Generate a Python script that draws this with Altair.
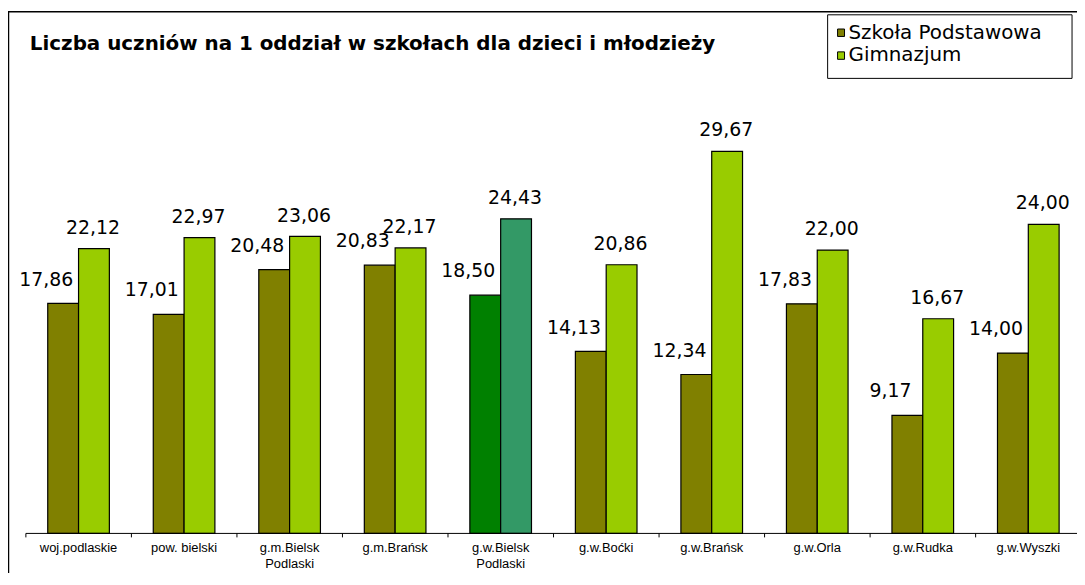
import altair as alt
import pandas as pd

# ---- data ----
categories = [
    "woj.podlaskie", "pow. bielski", "g.m.Bielsk\nPodlaski", "g.m.Brańsk",
    "g.w.Bielsk\nPodlaski", "g.w.Boćki", "g.w.Brańsk", "g.w.Orla",
    "g.w.Rudka", "g.w.Wyszki",
]
series_names = ["Szkoła Podstawowa", "Gimnazjum"]
sp_values = [17.86, 17.01, 20.48, 20.83, 18.50, 14.13, 12.34, 17.83, 9.17, 14.00]
gim_values = [22.12, 22.97, 23.06, 22.17, 24.43, 20.86, 29.67, 22.00, 16.67, 24.00]
highlight_category = "g.w.Bielsk\nPodlaski"
series_colors = ["#808000", "#99CC00"]
highlight_colors = ["#008000", "#339966"]
title_text = "Liczba uczniów na 1 oddział w szkołach dla dzieci i młodzieży"

# ---- table ----
rows = []
for cat, sp, gim in zip(categories, sp_values, gim_values):
    for s, v in zip(series_names, (sp, gim)):
        key = s + " *" if cat == highlight_category else s
        rows.append({"cat": cat, "series": s, "value": v, "key": key})
df = pd.DataFrame(rows)
color_domain = series_names + [s + " *" for s in series_names]
color_range = series_colors + highlight_colors

W, H = 1018, 455
FONT = "DejaVu Sans"

x_enc = alt.X(
    "cat:N", sort=categories,
    scale=alt.Scale(domain=categories, paddingInner=0.416, paddingOuter=0),
    axis=alt.Axis(
        title=None, domain=False, ticks=False, labelAngle=0,
        labelExpr="split(datum.label, '\\n')",
        labelFont="Liberation Sans", labelFontSize=13, labelColor="black",
        labelPadding=8, labelLineHeight=16, labelLimit=300,
    ),
)
xo_enc = alt.XOffset(
    "series:N", sort=series_names,
    scale=alt.Scale(domain=series_names, paddingInner=0, paddingOuter=0),
)
y_enc = alt.Y("value:Q", axis=None, scale=alt.Scale(domain=[0, 35.1], nice=False))

base = alt.Chart(df).transform_calculate(
    label="replace(format(datum.value, '.2f'), '.', ',')"
)

bars = base.mark_bar(stroke="black", strokeWidth=1.2).encode(
    x=x_enc, xOffset=xo_enc, y=y_enc,
    fill=alt.Fill("key:N", scale=alt.Scale(domain=color_domain, range=color_range), legend=None),
)

lab_sp = base.transform_filter(alt.datum.series == series_names[0]).mark_text(
    dx=-17, dy=-18, baseline="alphabetic", font=FONT, fontSize=19, color="black"
).encode(x=x_enc, xOffset=xo_enc, y=y_enc, text="label:N")

lab_gim = base.transform_filter(alt.datum.series == series_names[1]).mark_text(
    dx=-1, dy=-15, baseline="alphabetic", font=FONT, fontSize=19, color="black"
).encode(x=x_enc, xOffset=xo_enc, y=y_enc, text="label:N")

cat_df = pd.DataFrame({"cat": categories})
ticks = alt.Chart(cat_df).mark_rule(color="black", strokeWidth=1, xOffset=-22).encode(
    x=alt.X("cat:N", sort=categories, bandPosition=0),
    y=alt.value(H), y2=alt.value(H + 4),
)

one = pd.DataFrame({"k": [0]})
axis_line = alt.Chart(one).mark_rule(color="black", strokeWidth=1).encode(
    x=alt.value(-22), x2=alt.value(W + 30), y=alt.value(H)
)
frame_left = alt.Chart(one).mark_rule(color="black", strokeWidth=1.5).encode(
    x=alt.value(-39.5), y=alt.value(-70), y2=alt.value(H + 120)
)
frame_top = alt.Chart(one).mark_rule(color="black", strokeWidth=1.5).encode(
    x=alt.value(-40), x2=alt.value(W + 30), y=alt.value(-70)
)

title = alt.Chart(one).mark_text(
    text=title_text, align="left", baseline="alphabetic",
    font=FONT, fontWeight="bold", fontSize=20, color="black",
).encode(x=alt.value(-18), y=alt.value(-32))

legend_box = alt.Chart(one).mark_rect(fill="white", stroke="black", strokeWidth=1).encode(
    x=alt.value(785), x2=alt.value(1031), y=alt.value(-67), y2=alt.value(-3)
)
legend_layers = [legend_box]
for i, (name, col) in enumerate(zip(series_names, series_colors)):
    top = -52.7 + i * 23
    legend_layers.append(
        alt.Chart(one).mark_rect(fill=col, stroke="black", strokeWidth=1).encode(
            x=alt.value(795), x2=alt.value(802), y=alt.value(top), y2=alt.value(top + 7.5)
        )
    )
    legend_layers.append(
        alt.Chart(one).mark_text(
            text=name, align="left", baseline="alphabetic",
            font=FONT, fontSize=20, color="black",
        ).encode(x=alt.value(806), y=alt.value(-43 + i * 23))
    )

chart = alt.layer(
    frame_left, frame_top, bars, axis_line, ticks, lab_sp, lab_gim, title, *legend_layers
).properties(
    width=W, height=H,
    autosize=alt.AutoSizeParams(type="none"),
    padding={"left": 40, "top": 72, "right": 18, "bottom": 38},
    background="white",
).configure_view(stroke="transparent")

chart.save("out.html", embed_options={"renderer": "svg", "actions": False})
